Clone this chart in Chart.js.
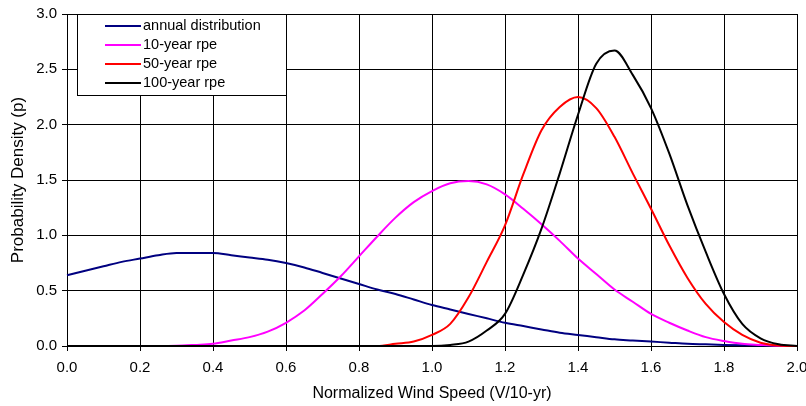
<!DOCTYPE html>
<html>
<head>
<meta charset="utf-8">
<script src="https://cdn.jsdelivr.net/npm/chart.js@4.4.1/dist/chart.umd.min.js"></script>
<style>
  html, body { margin: 0; padding: 0; background: #fff; }
  #wrap { width: 806px; height: 406px; }
</style>
</head>
<body>
<div id="wrap"><canvas id="windChart" width="806" height="406"></canvas></div>
<script>
// Normalized wind speed (V/10-yr)
const speeds = [
    0.00, 0.05, 0.10, 0.15, 0.20, 0.25, 0.30, 0.35, 0.40, 0.45,
    0.50, 0.55, 0.60, 0.65, 0.70, 0.75, 0.80, 0.85, 0.90, 0.95,
    1.00, 1.05, 1.10, 1.15, 1.20, 1.25, 1.30, 1.35, 1.40, 1.45,
    1.50, 1.55, 1.60, 1.65, 1.70, 1.75, 1.80, 1.85, 1.90, 1.95,
    2.00
];

// Probability density for each curve
const annualDist = [
    0.64, 0.68, 0.72, 0.76, 0.79, 0.82, 0.84, 0.84, 0.84, 0.82,
    0.80, 0.78, 0.75, 0.71, 0.66, 0.61, 0.56, 0.51, 0.47, 0.42,
    0.37, 0.33, 0.29, 0.25, 0.21, 0.18, 0.15, 0.12, 0.10, 0.08,
    0.06, 0.05, 0.04, 0.03, 0.02, 0.015, 0.01, 0.007, 0.005, 0.002,
    0
];
const rpe10 = [
    0, 0, 0, 0, 0, 0, 0.002, 0.01, 0.02, 0.05,
    0.08, 0.13, 0.21, 0.32, 0.47, 0.63, 0.81, 0.99, 1.16, 1.30,
    1.40, 1.47, 1.49, 1.46, 1.37, 1.24, 1.10, 0.95, 0.79, 0.65,
    0.51, 0.40, 0.29, 0.21, 0.14, 0.08, 0.045, 0.02, 0.01, 0.002,
    0
];
const rpe50 = [
    0, 0, 0, 0, 0, 0, 0, 0, 0, 0,
    0, 0, 0, 0, 0, 0, 0, 0, 0.02, 0.04,
    0.10, 0.20, 0.44, 0.76, 1.09, 1.55, 1.95, 2.16, 2.25, 2.15,
    1.89, 1.56, 1.24, 0.91, 0.615, 0.38, 0.216, 0.10, 0.03, 0.005,
    0
];
const rpe100 = [
    0, 0, 0, 0, 0, 0, 0, 0, 0, 0,
    0, 0, 0, 0, 0, 0, 0, 0, 0, 0,
    0, 0.01, 0.04, 0.14, 0.29, 0.645, 1.06, 1.56, 2.09, 2.55,
    2.67, 2.45, 2.15, 1.74, 1.27, 0.85, 0.47, 0.20, 0.07, 0.015,
    0
];

const seriesNames = ['annual distribution', '10-year rpe', '50-year rpe', '100-year rpe'];
const seriesColors = ['#000080', '#ff00ff', '#ff0000', '#000000'];

const FONT = '"Liberation Sans", Arial, sans-serif';

function toPoints(values) {
    return values.map((v, i) => ({ x: speeds[i], y: v }));
}

// Boxed legend in the upper left of the plot
const boxLegendPlugin = {
    id: 'boxLegend',
    afterDatasetsDraw: (chart) => {
        const ctx = chart.ctx;
        const x0 = 77, y0 = 14, w = 209, h = 81;
        ctx.save();
        ctx.fillStyle = '#fff';
        ctx.fillRect(x0, y0, w, h);
        ctx.strokeStyle = '#000';
        ctx.lineWidth = 1;
        ctx.strokeRect(x0 + 0.5, y0 + 0.5, w, h);
        ctx.font = '14.5px ' + FONT;
        ctx.textBaseline = 'middle';
        ctx.fillStyle = '#000';
        seriesNames.forEach((name, i) => {
            const y = 26 + i * 19;
            ctx.strokeStyle = seriesColors[i];
            ctx.lineWidth = 2;
            ctx.beginPath();
            ctx.moveTo(105, y);
            ctx.lineTo(141, y);
            ctx.stroke();
            ctx.fillText(name, 143, y);
        });
        ctx.restore();
    }
};

const datasets = [annualDist, rpe10, rpe50, rpe100].map((vals, i) => ({
    label: seriesNames[i],
    data: toPoints(vals),
    borderColor: seriesColors[i],
    backgroundColor: seriesColors[i],
    borderWidth: 2,
    pointRadius: 0,
    fill: false,
    cubicInterpolationMode: 'monotone',
    clip: 3,
    order: 3 - i // last series drawn on top
}));

const ctx = document.getElementById('windChart').getContext('2d');
const windChart = new Chart(ctx, {
    type: 'line',
    data: { datasets: datasets },
    options: {
        responsive: false,
        animation: false,
        events: [],
        layout: {
            padding: { left: 0, top: 8, right: 9, bottom: 0 }
        },
        plugins: {
            legend: { display: false },
            tooltip: { enabled: false }
        },
        scales: {
            x: {
                type: 'linear',
                min: 0,
                max: 2,
                grid: {
                    color: '#000',
                    lineWidth: 1,
                    tickLength: 5
                },
                border: { color: '#000', width: 1 },
                ticks: {
                    stepSize: 0.2,
                    color: '#000',
                    padding: 8,
                    maxRotation: 0,
                    font: { family: FONT, size: 15 },
                    callback: (value) => value.toFixed(1)
                },
                title: {
                    display: true,
                    text: 'Normalized Wind Speed (V/10-yr)',
                    color: '#000',
                    font: { family: FONT, size: 16 },
                    padding: { top: 0, bottom: 3 }
                },
                afterFit: (scale) => {
                    scale.height = 60;
                    scale.paddingLeft = 0;
                    scale.paddingRight = 0;
                }
            },
            y: {
                min: 0,
                max: 3,
                grid: {
                    color: '#000',
                    lineWidth: 1,
                    tickLength: 5
                },
                border: { color: '#000', width: 1 },
                ticks: {
                    stepSize: 0.5,
                    color: '#000',
                    padding: 5,
                    font: { family: FONT, size: 15 },
                    callback: (value) => value.toFixed(1)
                },
                title: {
                    display: true,
                    text: 'Probability Density (p)',
                    color: '#000',
                    font: { family: FONT, size: 17 },
                    padding: { top: 8, bottom: 0 }
                },
                afterFit: (scale) => {
                    scale.width = 67;
                }
            }
        }
    },
    plugins: [boxLegendPlugin]
});
</script>
</body>
</html>
